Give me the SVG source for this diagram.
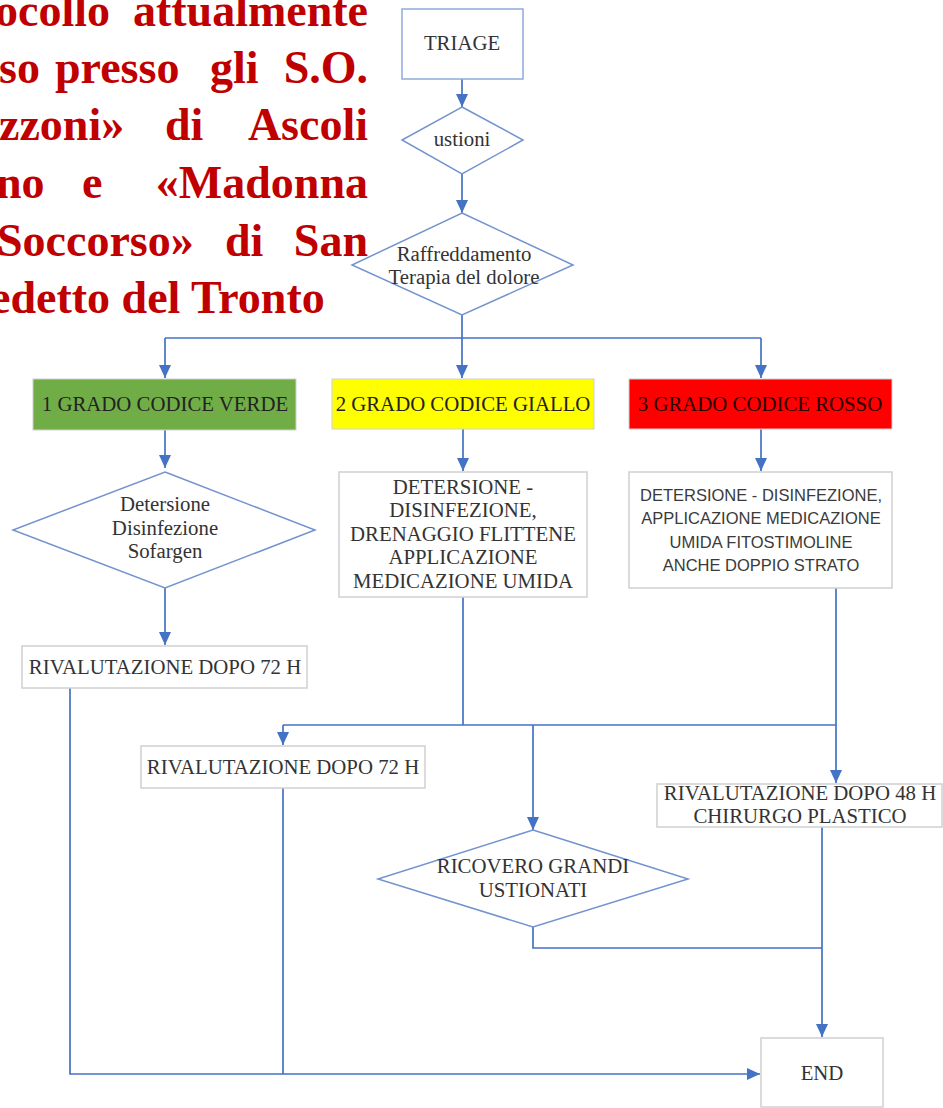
<svg xmlns="http://www.w3.org/2000/svg" width="943" height="1108" viewBox="0 0 943 1108">
<style>
.title{font-family:"Liberation Serif","Times New Roman",serif;font-weight:bold;font-size:46px;fill:#C00000}
.t{font-family:"Liberation Serif","Times New Roman",serif;font-size:20.8px;fill:#333;text-anchor:middle}
.s{font-family:"Liberation Sans",Arial,sans-serif;font-size:16.5px;fill:#3a3a3a;text-anchor:middle}
.box{fill:#fff;stroke:#d0d0d0;stroke-width:1.5}
.dia{fill:#fff;stroke:#7393d0;stroke-width:1.5}
.con{fill:none;stroke:#4472C4;stroke-width:1.7}
</style>
<defs>
<marker id="arr" markerUnits="userSpaceOnUse" markerWidth="14" markerHeight="14" viewBox="0 0 14 14" refX="13" refY="7" orient="auto">
<path d="M0,1 L13,7 L0,13 Z" fill="#4472C4"/>
</marker>
</defs>
<rect width="943" height="1108" fill="#fff"/>
<g id="title">
<text class="title" y="26"><tspan x="-5">ocollo</tspan><tspan x="368" text-anchor="end">attualmente</tspan></text>
<text class="title" y="83"><tspan x="-1">so</tspan><tspan x="55">presso</tspan><tspan x="210">gli</tspan><tspan x="368" text-anchor="end">S.O.</tspan></text>
<text class="title" y="140"><tspan x="-1">zzoni»</tspan><tspan x="165">di</tspan><tspan x="368" text-anchor="end">Ascoli</tspan></text>
<text class="title" y="198"><tspan x="-4">no</tspan><tspan x="82">e</tspan><tspan x="368" text-anchor="end">«Madonna</tspan></text>
<text class="title" y="256"><tspan x="-3">Soccorso»</tspan><tspan x="225">di</tspan><tspan x="368" text-anchor="end">San</tspan></text>
<text class="title" y="313" x="-10">edetto del Tronto</text>
</g>
<g id="connectors">
<path class="con" d="M462,79 V107" marker-end="url(#arr)"/>
<path class="con" d="M462,174 V213" marker-end="url(#arr)"/>
<path class="con" d="M462,315 V378" marker-end="url(#arr)"/>
<path class="con" d="M165,338 H761"/>
<path class="con" d="M165,338 V378" marker-end="url(#arr)"/>
<path class="con" d="M761,338 V378" marker-end="url(#arr)"/>
<path class="con" d="M165,430 V468" marker-end="url(#arr)"/>
<path class="con" d="M165,588 V645" marker-end="url(#arr)"/>
<path class="con" d="M463,429 V471" marker-end="url(#arr)"/>
<path class="con" d="M761,429 V471" marker-end="url(#arr)"/>
<path class="con" d="M463,597 V725"/>
<path class="con" d="M283,725 H836"/>
<path class="con" d="M283,725 V745" marker-end="url(#arr)"/>
<path class="con" d="M533,725 V830" marker-end="url(#arr)"/>
<path class="con" d="M836,588 V783" marker-end="url(#arr)"/>
<path class="con" d="M822,827 V1037" marker-end="url(#arr)"/>
<path class="con" d="M533,927 V948 H822"/>
<path class="con" d="M70,688 V1074 H760" marker-end="url(#arr)"/>
<path class="con" d="M283,788 V1074"/>
</g>
<g id="triage">
<rect x="402" y="9" width="121" height="70" fill="#fff" stroke="#8faadc" stroke-width="1.5"/>
<text class="t" x="462" y="50">TRIAGE</text>
</g>
<g id="ustioni">
<polygon class="dia" points="462,107 523,140 462,174 402,140"/>
<text class="t" x="462" y="146">ustioni</text>
</g>
<g id="raffreddamento">
<polygon class="dia" points="462,213 573,265 462,315 352,265"/>
<text class="t" x="464" y="261">Raffreddamento</text>
<text class="t" x="464" y="284">Terapia del dolore</text>
</g>
<g id="verde">
<rect x="33" y="379" width="263" height="51" fill="#70AD47" stroke="#d0d0d0" stroke-width="1"/>
<text class="t" x="165" y="411" style="fill:#222">1 GRADO CODICE VERDE</text>
</g>
<g id="giallo">
<rect x="332" y="379" width="262" height="50" fill="#FFFF00" stroke="#d0d0d0" stroke-width="1"/>
<text class="t" x="463" y="411" style="fill:#222">2 GRADO CODICE GIALLO</text>
</g>
<g id="rosso">
<rect x="629" y="379" width="263" height="50" fill="#FF0000" stroke="#d0d0d0" stroke-width="1"/>
<text class="t" x="760" y="411" style="fill:#2a0000">3 GRADO CODICE ROSSO</text>
</g>
<g id="detersione-verde">
<polygon class="dia" points="165,472 315,530 165,588 13,530"/>
<text class="t" x="165" y="511">Detersione</text>
<text class="t" x="165" y="535">Disinfezione</text>
<text class="t" x="165" y="558">Sofargen</text>
</g>
<g id="detersione-giallo">
<rect class="box" x="339" y="472" width="248" height="125"/>
<text class="t" x="463" y="494">DETERSIONE -</text>
<text class="t" x="463" y="517">DISINFEZIONE,</text>
<text class="t" x="463" y="541">DRENAGGIO FLITTENE</text>
<text class="t" x="463" y="564">APPLICAZIONE</text>
<text class="t" x="463" y="588">MEDICAZIONE UMIDA</text>
</g>
<g id="detersione-rosso">
<rect class="box" x="629" y="472" width="263" height="116"/>
<text class="s" x="761" y="501">DETERSIONE - DISINFEZIONE,</text>
<text class="s" x="761" y="524">APPLICAZIONE MEDICAZIONE</text>
<text class="s" x="761" y="548">UMIDA FITOSTIMOLINE</text>
<text class="s" x="761" y="571">ANCHE DOPPIO STRATO</text>
</g>
<g id="rivalutazione-verde">
<rect class="box" x="22" y="646" width="285" height="42"/>
<text class="t" x="165" y="674">RIVALUTAZIONE DOPO 72 H</text>
</g>
<g id="rivalutazione-giallo">
<rect class="box" x="141" y="746" width="284" height="42"/>
<text class="t" x="283" y="774">RIVALUTAZIONE DOPO 72 H</text>
</g>
<g id="ricovero">
<polygon class="dia" points="533,830 688,879 533,927 378,879"/>
<text class="t" x="533" y="873">RICOVERO GRANDI</text>
<text class="t" x="533" y="897">USTIONATI</text>
</g>
<g id="rivalutazione-rosso">
<rect class="box" x="657" y="784" width="285" height="43"/>
<text class="t" x="800" y="800">RIVALUTAZIONE DOPO 48 H</text>
<text class="t" x="800" y="823">CHIRURGO PLASTICO</text>
</g>
<g id="end">
<rect class="box" x="761" y="1038" width="122" height="69"/>
<text class="t" x="822" y="1080">END</text>
</g>
</svg>
